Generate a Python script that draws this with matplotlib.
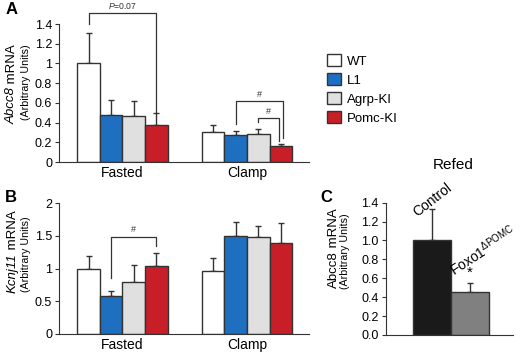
import numpy as np
import matplotlib
matplotlib.use('Agg')
from matplotlib import pyplot as plt
from matplotlib.patches import Patch

plt.rcParams['font.family'] = 'Liberation Sans'
plt.rcParams['mathtext.fontset'] = 'custom'
plt.rcParams['mathtext.rm'] = 'Liberation Sans'
plt.rcParams['mathtext.it'] = 'Liberation Sans:italic'

groups = ['Fasted', 'Clamp']
genotypes = ['WT', 'L1', 'Agrp-KI', 'Pomc-KI']
colors = ['#ffffff', '#1f6fc0', '#e0e0e0', '#c81e28']

# panel A: Abcc8
abcc8_mean = [[1.0, 0.48, 0.47, 0.375], [0.30, 0.275, 0.28, 0.16]]
abcc8_err = [[0.31, 0.15, 0.15, 0.125], [0.08, 0.035, 0.05, 0.02]]

# panel B: Kcnj11
kcnj11_mean = [[1.0, 0.58, 0.80, 1.045], [0.97, 1.50, 1.48, 1.40]]
kcnj11_err = [[0.20, 0.08, 0.26, 0.195], [0.20, 0.22, 0.17, 0.30]]

# panel C: refed
refed_labels = ['Control', 'Foxo1$^{\\Delta\\mathrm{POMC}}$']
refed_mean = [1.0, 0.45]
refed_err = [0.33, 0.10]
refed_colors = ['#1a1a1a', '#808080']

EDGE = '#333333'
W = 0.182


def style_axis(ax):
    for s in ['top', 'right']:
        ax.spines[s].set_visible(False)
    ax.spines['left'].set_color(EDGE)
    ax.spines['bottom'].set_color(EDGE)
    ax.tick_params(axis='y', labelsize=9, length=3, color=EDGE, pad=2)
    ax.tick_params(axis='x', length=0, labelsize=10, pad=3)


def grouped_bars(ax, means, errs):
    for g in range(len(groups)):
        for i in range(len(genotypes)):
            x = g + (i - 1.5) * W
            ax.bar(x, means[g][i], W, color=colors[i], edgecolor=EDGE, linewidth=1, zorder=2)
            ax.errorbar(x, means[g][i], yerr=[[0], [errs[g][i]]], color=EDGE,
                        capsize=2.2, elinewidth=1, capthick=1, zorder=1)
    ax.set_xticks(range(len(groups)))
    ax.set_xticklabels(groups)
    ax.set_xlim(-0.51, 1.5)


def bracket(ax, x1, x2, y1, y2, top, text, ty, fs=6.5):
    ax.plot([x1, x1, x2, x2], [y1, top, top, y2], color=EDGE, lw=0.9, clip_on=False)
    ax.text((x1 + x2) / 2, ty, text, ha='center', va='center', fontsize=fs, color='#333')


def ylabel(ax, gene, x1, x2, y1, y2, italic=True):
    # gene name ends at y1, " mRNA" starts there; both on one baseline
    kw = dict(rotation=90, rotation_mode='anchor', transform=ax.transAxes,
              va='baseline', fontsize=9.5)
    ax.text(x1, y1, gene, ha='right', style='italic' if italic else 'normal', **kw)
    ax.text(x1, y1, ' mRNA', ha='left', **kw)
    ax.text(x2, y2, '(Arbitrary Units)', rotation=90, transform=ax.transAxes,
            ha='center', va='center', fontsize=7.7)


fig = plt.figure(figsize=(5.2, 3.53), dpi=100)

# A
axA = fig.add_axes([0.1135, 0.541, 0.481, 0.391])
grouped_bars(axA, abcc8_mean, abcc8_err)
axA.set_ylim(0, 1.4)
axA.set_yticks([0, 0.2, 0.4, 0.6, 0.8, 1.0, 1.2, 1.4])
axA.set_yticklabels(['0', '0.2', '0.4', '0.6', '0.8', '1', '1.2', '1.4'])
style_axis(axA)
ylabel(axA, 'Abcc8', -0.176, -0.134, 0.54, 0.58)
bracket(axA, -0.273, 0.273, 1.405, 0.495, 1.508, '$\\it{P}$=0.07', 1.58, fs=6.2)
bracket(axA, 0.909, 1.292, 0.385, 0.246, 0.615, '#', 0.69)
bracket(axA, 1.088, 1.259, 0.405, 0.213, 0.443, '#', 0.51)

# B
axB = fig.add_axes([0.1135, 0.054, 0.481, 0.370])
grouped_bars(axB, kcnj11_mean, kcnj11_err)
axB.set_ylim(0, 2)
axB.set_yticks([0, 0.5, 1, 1.5, 2])
axB.set_yticklabels(['0', '0.5', '1', '1.5', '2'])
style_axis(axB)
ylabel(axB, 'Kcnj11', -0.172, -0.133, 0.62, 0.61)
bracket(axB, -0.091, 0.273, 0.85, 1.34, 1.48, '#', 1.60)

# C
axC = fig.add_axes([0.742, 0.051, 0.245, 0.375])
for i in range(len(refed_mean)):
    axC.bar(i, refed_mean[i], 1.0, color=refed_colors[i], edgecolor=EDGE, linewidth=1, zorder=2)
    axC.errorbar(i, refed_mean[i], yerr=[[0], [refed_err[i]]], color=EDGE,
                 capsize=2.2, elinewidth=1, capthick=1, zorder=1)
axC.set_xlim(-1.22, 2.14)
axC.set_ylim(0, 1.4)
axC.set_yticks(np.arange(0, 1.41, 0.2))
axC.set_yticklabels(['%.1f' % v for v in np.arange(0, 1.41, 0.2)])
axC.set_xticks([])
style_axis(axC)
ylabel(axC, 'Abcc8', -0.385, -0.32, 0.635, 0.63, italic=False)
axC.text(0, 1.43, refed_labels[0], rotation=38, ha='center', va='center', fontsize=10, clip_on=False)
axC.text(1.35, 0.89, refed_labels[1], rotation=33, ha='center', va='center', fontsize=10, clip_on=False)
axC.text(1, 0.66, '*', ha='center', va='center', fontsize=11)
fig.text(0.871, 0.533, 'Refed', ha='center', va='center', fontsize=11)

# legend
handles = [Patch(facecolor=colors[i], edgecolor=EDGE, linewidth=1) for i in range(len(genotypes))]
fig.legend(handles, genotypes, loc='upper left', bbox_to_anchor=(0.617, 0.865), frameon=False,
           fontsize=9.5, handlelength=1.0, handleheight=1.0, labelspacing=0.42, handletextpad=0.45,
           borderpad=0)

# panel letters
fig.text(0.01, 0.973, 'A', fontsize=12, fontweight='bold', va='center')
fig.text(0.01, 0.44, 'B', fontsize=12, fontweight='bold', va='center')
fig.text(0.617, 0.44, 'C', fontsize=12, fontweight='bold', va='center')

fig.savefig('out.png', dpi=100)
